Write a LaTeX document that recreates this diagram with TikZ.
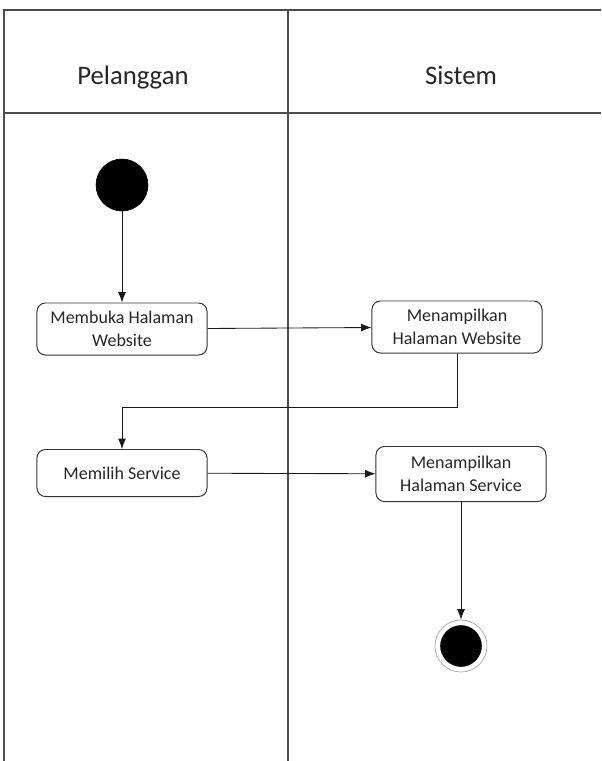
\documentclass[tikz,border=0pt]{standalone}
\usepackage{fontspec}
\setmainfont{Carlito}
\usetikzlibrary{arrows.meta}

\tikzset{
  lane/.style={draw=black!70, line width=0.9pt},
  lanetitle/.style={font=\fontsize{19}{22}\selectfont, text=black!85, anchor=base},
  action/.style={draw=black!80, rounded corners=6pt, line width=0.7pt, minimum width=4.25cm, minimum height=1.3cm, align=center, font=\fontsize{12.8}{16}\selectfont, text=black!85},
  startstate/.style={circle, fill=black, draw=black, minimum size=1.3cm, inner sep=0pt},
  endstate/.style={circle, fill=black, draw=white, line width=1.6pt, minimum size=1.1cm, inner sep=0pt},
  flow/.style={-{Latex[length=2.6mm,width=2mm]}, line width=0.6pt, black!90}
}

\begin{document}
\begin{tikzpicture}[x=0.025cm, y=-0.025cm]
	\useasboundingbox (0,0) rectangle (601,761);

	% Swimlanes
	\draw[lane] (4,761) -- (4,10) -- (601,10);
	\draw[lane] (4,113) -- (601,113);
	\draw[lane] (288,10) -- (288,761);

	% Define nodes
	\node (pelanggan) [lanetitle] at (133,85) {Pelanggan};
	\node (sistem) [lanetitle] at (461,85) {Sistem};

	\node (start) [startstate] at (122,185) {};
	\node (buka) [action] at (122,329) {Membuka Halaman\\Website};
	\node (tampilweb) [action] at (457,327) {Menampilkan\\Halaman Website};
	\node (pilih) [action, minimum height=1.175cm] at (122,473) {Memilih Service};
	\node (tampilservice) [action, minimum height=1.375cm] at (461,474) {Menampilkan\\Halaman Service};
	\node (endring) [circle, draw=black!35, line width=0.5pt, minimum size=1.3cm, inner sep=0pt] at (461,646) {};
	\node (end) [endstate] at (461,646) {};
	\coordinate (belok) at (457,407);

	% Draw edges
	\draw[flow] (start) -- (buka);
	\draw[flow] (buka) -- (tampilweb);
	\draw[flow] (tampilweb.south) -- (belok) -| (pilih.north);
	\draw[flow] (pilih) -- (tampilservice);
	\draw[flow] (tampilservice) -- (endring);
\end{tikzpicture}
\end{document}
